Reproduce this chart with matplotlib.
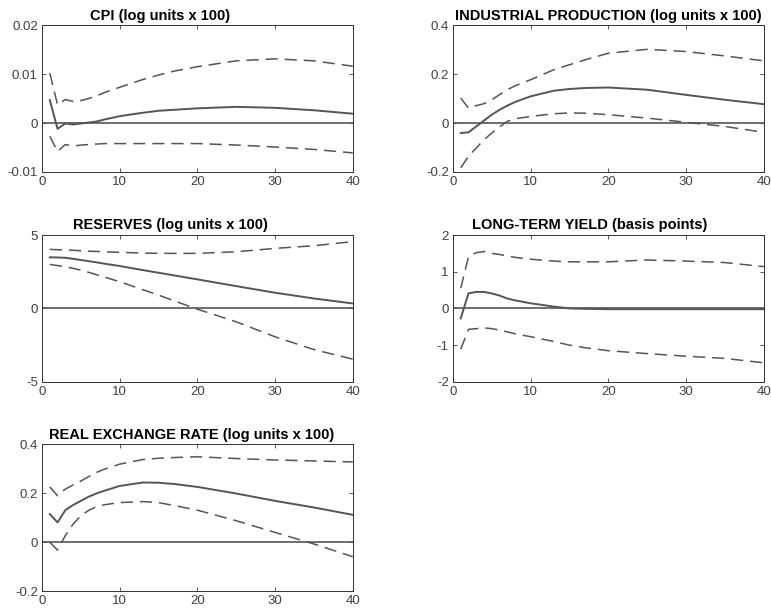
import numpy as np
import matplotlib.pyplot as plt

plt.rcParams['font.family'] = ['Liberation Sans', 'DejaVu Sans']

# horizon points
x = [1, 2, 3, 4, 5, 6, 7, 8, 10, 13, 15, 17, 20, 25, 30, 35, 40]

cpi_mid = [0.0047, -0.0012, -0.0001, -0.0003, -0.0001, 0.0001, 0.0003, 0.0007, 0.0014, 0.0021, 0.0025, 0.0027, 0.0030, 0.0033, 0.0031, 0.0026, 0.0019]
cpi_up = [0.0102, 0.0037, 0.0048, 0.0044, 0.0046, 0.0050, 0.0055, 0.0062, 0.0073, 0.0089, 0.0098, 0.0106, 0.0115, 0.0127, 0.0131, 0.0127, 0.0116]
cpi_lo = [-0.0027, -0.0058, -0.0044, -0.0047, -0.0045, -0.0044, -0.0043, -0.0042, -0.0042, -0.0042, -0.0042, -0.0042, -0.0042, -0.0045, -0.0049, -0.0054, -0.0061]

ip_mid = [-0.041, -0.038, -0.014, 0.010, 0.034, 0.054, 0.071, 0.086, 0.109, 0.132, 0.139, 0.143, 0.145, 0.136, 0.115, 0.095, 0.077]
ip_up = [0.102, 0.061, 0.071, 0.079, 0.095, 0.116, 0.136, 0.152, 0.177, 0.218, 0.238, 0.258, 0.285, 0.301, 0.292, 0.274, 0.254]
ip_lo = [-0.183, -0.136, -0.102, -0.068, -0.041, -0.016, 0.007, 0.017, 0.027, 0.038, 0.041, 0.040, 0.034, 0.020, 0.003, -0.014, -0.038]

res_mid = [3.48, 3.47, 3.45, 3.38, 3.30, 3.22, 3.14, 3.05, 2.89, 2.61, 2.43, 2.25, 1.98, 1.52, 1.07, 0.68, 0.34]
res_up = [4.02, 4.00, 3.98, 3.96, 3.93, 3.90, 3.88, 3.86, 3.82, 3.77, 3.75, 3.75, 3.75, 3.86, 4.09, 4.27, 4.55]
res_lo = [3.00, 2.92, 2.84, 2.73, 2.61, 2.46, 2.30, 2.14, 1.82, 1.27, 0.91, 0.52, -0.05, -0.91, -1.93, -2.80, -3.45]

lty_mid = [-0.27, 0.41, 0.45, 0.45, 0.41, 0.35, 0.27, 0.22, 0.14, 0.05, 0.00, -0.01, -0.02, -0.02, -0.02, -0.02, -0.02]
lty_up = [0.55, 1.41, 1.52, 1.55, 1.50, 1.47, 1.43, 1.39, 1.34, 1.29, 1.27, 1.27, 1.27, 1.32, 1.29, 1.25, 1.14]
lty_lo = [-1.11, -0.57, -0.55, -0.53, -0.55, -0.59, -0.64, -0.69, -0.77, -0.90, -1.00, -1.07, -1.15, -1.23, -1.30, -1.36, -1.48]

rer_mid = [0.115, 0.081, 0.131, 0.152, 0.169, 0.186, 0.199, 0.210, 0.230, 0.244, 0.243, 0.238, 0.226, 0.199, 0.169, 0.142, 0.112]
rer_up = [0.226, 0.190, 0.217, 0.234, 0.250, 0.268, 0.285, 0.298, 0.319, 0.338, 0.343, 0.346, 0.349, 0.342, 0.336, 0.332, 0.328]
rer_lo = [0.000, -0.032, 0.027, 0.074, 0.108, 0.130, 0.145, 0.153, 0.162, 0.166, 0.162, 0.150, 0.131, 0.088, 0.040, -0.007, -0.059]

titles = ['CPI (log units x 100)', 'INDUSTRIAL PRODUCTION (log units x 100)',
          'RESERVES (log units x 100)', 'LONG-TERM YIELD (basis points)',
          'REAL EXCHANGE RATE (log units x 100)']
series = [(cpi_mid, cpi_up, cpi_lo), (ip_mid, ip_up, ip_lo), (res_mid, res_up, res_lo),
          (lty_mid, lty_up, lty_lo), (rer_mid, rer_up, rer_lo)]
yticks = [[-0.01, 0, 0.01, 0.02], [-0.2, 0, 0.2, 0.4], [-5, 0, 5], [-2, -1, 0, 1, 2], [-0.2, 0, 0.2, 0.4]]
yticklabels = [['-0.01', '0', '0.01', '0.02'], ['-0.2', '0', '0.2', '0.4'], ['-5', '0', '5'],
               ['-2', '-1', '0', '1', '2'], ['-0.2', '0', '0.2', '0.4']]

# titles in the original are padded with trailing blanks to the same length
tlen = max(len(t) for t in titles)

fig = plt.figure(figsize=(7.71, 6.12), dpi=100)
lefts = [0.0545, 0.5875]
bottoms = [0.719, 0.376, 0.034]
w, h = 0.403, 0.240
line_c = '#555555'

for i in range(5):
    ax = fig.add_axes([lefts[i % 2], bottoms[i // 2], w, h])
    mid, up, lo = series[i]
    ax.axhline(0, color=line_c, lw=1.2)
    ax.plot(x, up, color=line_c, lw=1.1, ls=(0, (8, 4.5)))
    ax.plot(x, lo, color=line_c, lw=1.1, ls=(0, (8, 4.5)))
    ax.plot(x, mid, color=line_c, lw=1.4)
    ax.set_xlim(0, 40)
    ax.set_xticks([0, 10, 20, 30, 40])
    ax.set_ylim(yticks[i][0], yticks[i][-1])
    ax.set_yticks(yticks[i])
    ax.set_yticklabels(yticklabels[i])
    ax.set_title(titles[i].ljust(tlen), fontsize=10.5, fontweight='bold', pad=4)
    ax.tick_params(direction='in', top=True, right=True, length=3, width=0.6,
                   color='#404040', labelcolor='#404040', labelsize=9.5, pad=3)
    for s in ax.spines.values():
        s.set_color('#333333')
        s.set_linewidth(0.7)

fig.savefig('out.png', dpi=100)
